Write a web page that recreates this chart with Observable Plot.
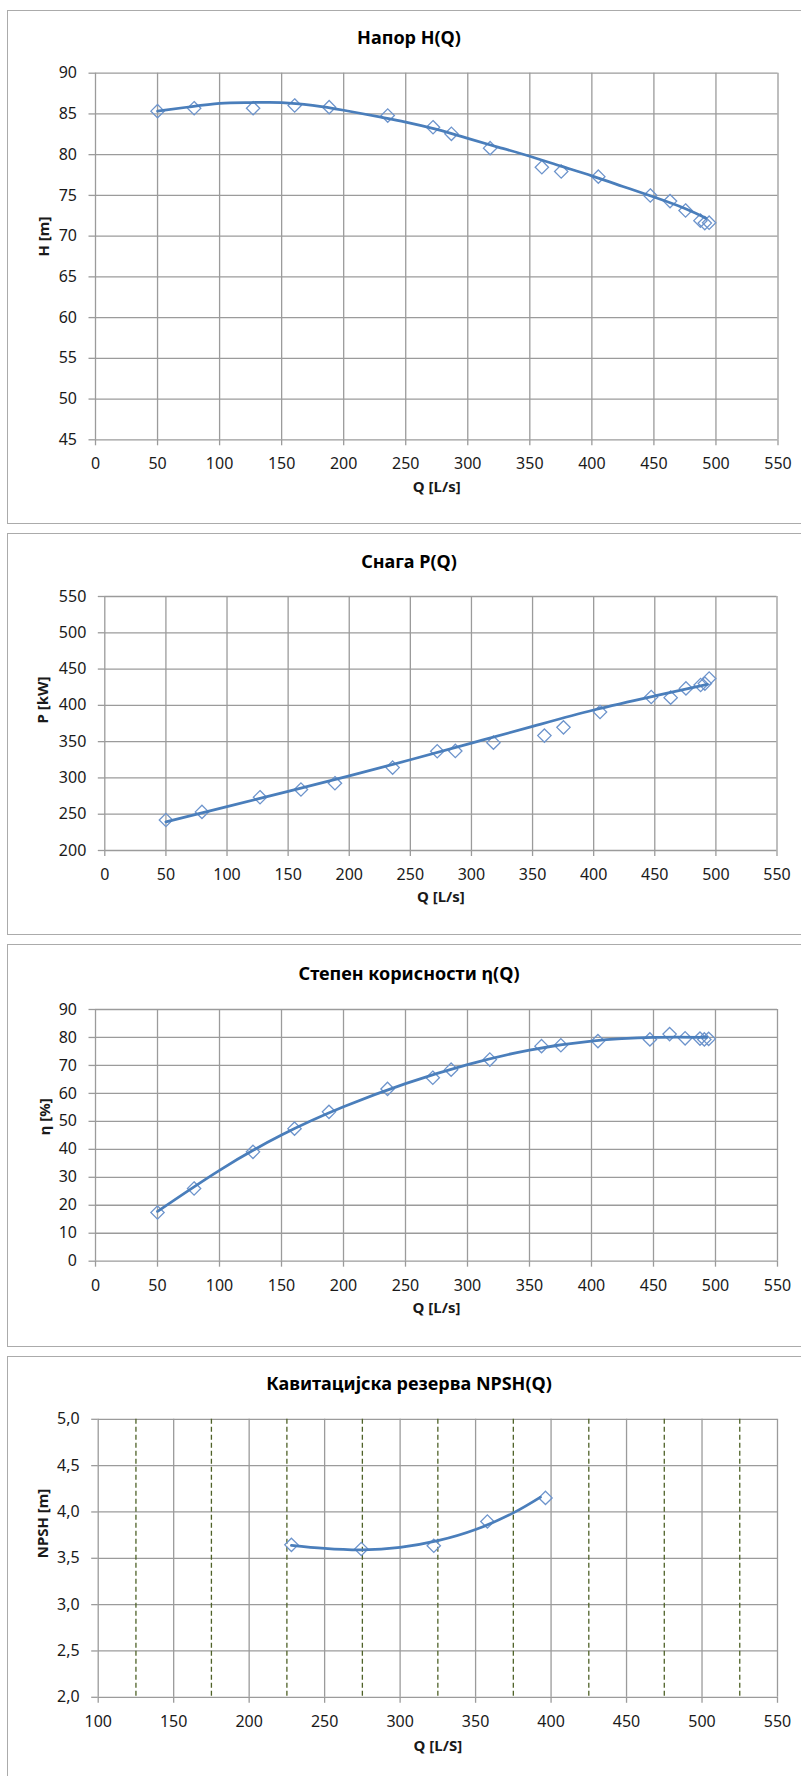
<!DOCTYPE html>
<html><head><meta charset="utf-8">
<script src="https://cdn.jsdelivr.net/npm/d3@7"></script>
<script src="https://cdn.jsdelivr.net/npm/@observablehq/plot@0.6"></script>
<style>
html,body{margin:0;padding:0;background:#fff;overflow:hidden;}
#root{position:relative;width:801px;height:1776px;overflow:hidden;font-family:"Noto Sans",sans-serif;}
.frame{position:absolute;left:7.3px;width:830px;border:1.4px solid #ababab;box-sizing:border-box;pointer-events:none;}
.title{position:absolute;left:8px;width:802px;text-align:center;font-weight:bold;font-size:18px;height:26px;line-height:26px;color:#000;font-family:"Noto Sans",sans-serif;}
</style></head><body><div id="root"></div>
<script>
// ---- data ----
// measured flow rates (shared by H, P, eta)
const Q = [50, 79.5, 127, 160.5, 188.3, 235.5, 272, 286.8, 318, 359.7, 375.3, 405.2, 447.1, 463, 475.5, 487.5, 491, 494.5];
// head H [m]
const H = [85.34, 85.7, 85.7, 86.04, 85.83, 84.8, 83.37, 82.56, 80.8, 78.46, 77.93, 77.3, 74.99, 74.3, 73.15, 71.9, 71.6, 71.65];
// power P [kW]
const P = [242, 253.2, 273.4, 284, 292.7, 314.2, 336.7, 337.2, 348.6, 358.3, 369.7, 390.8, 411.5, 410.6, 423.4, 428, 430, 437];
// efficiency eta [%]
const ETA = [17.4, 26.0, 39.1, 47.4, 53.4, 61.6, 65.6, 68.5, 72.1, 76.9, 77.2, 78.7, 79.3, 81.2, 79.7, 79.6, 79.3, 79.5];
// NPSH measurements
const Q_NPSH = [228, 274.3, 322.3, 357.8, 396.3];
const NPSH = [3.645, 3.60, 3.635, 3.897, 4.152];

// trend lines
const H_TREND_Q = [50, 75, 100, 125, 150, 175, 200, 230, 250, 275, 300, 325, 350, 375, 400, 425, 450, 475, 492];
const H_TREND = [85.35, 85.85, 86.3, 86.4, 86.4, 86.05, 85.45, 84.6, 84.0, 83.1, 82.0, 80.9, 79.8, 78.6, 77.4, 76.1, 74.8, 73.4, 72.2];
const P_TREND_Q = [50, 100, 150, 200, 250, 300, 350, 400, 450, 493];
const P_TREND = [239.4, 260.5, 281.5, 302.8, 325, 348, 371, 393.6, 413, 429];
const ETA_TREND_Q = [50, 100, 150, 200, 250, 300, 350, 400, 450, 493];
const ETA_TREND = [17.8, 32.5, 45.1, 55.2, 63.5, 70.3, 75.5, 78.7, 80.0, 80.0];
const NPSH_TREND_Q = [228, 250, 275, 300, 325, 350, 375, 393];
const NPSH_TREND = [3.64, 3.606, 3.59, 3.617, 3.69, 3.81, 3.99, 4.16];

// axis ticks
const X_TICKS = [0, 50, 100, 150, 200, 250, 300, 350, 400, 450, 500, 550];
const X_TICKS_NPSH = [100, 150, 200, 250, 300, 350, 400, 450, 500, 550];
const X_MINOR_NPSH = [125, 175, 225, 275, 325, 375, 425, 475, 525];
const H_TICKS = [45, 50, 55, 60, 65, 70, 75, 80, 85, 90];
const P_TICKS = [200, 250, 300, 350, 400, 450, 500, 550];
const ETA_TICKS = [0, 10, 20, 30, 40, 50, 60, 70, 80, 90];
const NPSH_TICKS = [2.0, 2.5, 3.0, 3.5, 4.0, 4.5, 5.0];

const TITLES = ["Напор H(Q)", "Снага P(Q)", "Степен корисности η(Q)", "Кавитацијска резерва NPSH(Q)"];
const Y_LABELS = ["H [m]", "P [kW]", "η [%]", "NPSH [m]"];
const X_LABELS = ["Q [L/s]", "Q [L/s]", "Q [L/s]", "Q [L/S]"];

// ---- styling ----
const GRID = "#9b9b9b";
const TXT = "#1a1a1a";
const LINE = "#4a7ebb";
const MARK = "#6d94cc";
const FONT = "Noto Sans";

const root = document.getElementById("root");
const zipPts = (qs, vs) => qs.map((q, i) => ({q, v: vs[i]}));

function panel(c) {
  const height = c.bottom - c.top;
  const marks = [
    Plot.gridY(c.yTicks, {stroke: GRID, strokeOpacity: 1, strokeWidth: 1.3}),
    Plot.gridX(c.xTicks, {stroke: GRID, strokeOpacity: 1, strokeWidth: 1.3})
  ];
  if (c.minor) marks.push(Plot.ruleX(c.minor, {stroke: "#4f6228", strokeDasharray: "5,3", strokeWidth: 1.3}));
  marks.push(
    Plot.axisY(c.yTicks, {tickSize: 6.5, tickPadding: 12, stroke: GRID, strokeWidth: 1.3, fill: TXT, fontSize: 16, label: null, tickFormat: c.fmt}),
    Plot.axisX(c.xTicks, {tickSize: 6, tickPadding: 12, stroke: GRID, strokeWidth: 1.3, fill: TXT, fontSize: 16, label: null, tickFormat: d => String(d)}),
    Plot.dot(c.pts, {x: "q", y: "v", symbol: "diamond2", r: 6, stroke: MARK, strokeWidth: 1.3, fill: "none"}),
    Plot.line(c.trend, {x: "q", y: "v", stroke: LINE, strokeWidth: 2.75, curve: "natural"}),
    Plot.text([c.xLabel], {text: d => d, frameAnchor: "bottom", dy: c.xLabelY - c.plotBottom, fontWeight: "bold", fontSize: 15, fill: TXT}),
    Plot.text([c.yLabel], {text: d => d, frameAnchor: "left", dx: c.yLabelX - c.plotLeft, rotate: -90, fontWeight: "bold", fontSize: 15, fill: TXT})
  );
  const svg = Plot.plot({
    width: 801,
    height,
    marginTop: c.plotTop - c.top,
    marginBottom: c.bottom - c.plotBottom,
    marginLeft: c.plotLeft,
    marginRight: 801 - c.plotRight,
    x: {domain: c.xDomain},
    y: {domain: c.yDomain},
    style: {fontFamily: FONT, fontSize: "16px", background: "transparent", overflow: "visible"},
    marks
  });
  svg.style.position = "absolute";
  svg.style.left = "0px";
  svg.style.top = c.top + "px";
  svg.style.maxWidth = "none";
  root.appendChild(svg);
  const fr = document.createElement("div");
  fr.className = "frame";
  fr.style.top = c.top + "px";
  fr.style.height = (c.frameBottom ?? c.bottom) - c.top + "px";
  root.appendChild(fr);
  const t = document.createElement("div");
  t.className = "title";
  t.textContent = c.title;
  t.style.top = (c.titleY - 13) + "px";
  root.appendChild(t);
}

const fmtInt = d => String(d);
const fmtComma = d => d.toFixed(1).replace(".", ",");

panel({top: 10, bottom: 524.3, plotTop: 72.7, plotBottom: 439.3, plotLeft: 95, plotRight: 777.5,
  xDomain: [0, 550], yDomain: [45, 90], xTicks: X_TICKS, yTicks: H_TICKS, fmt: fmtInt,
  pts: zipPts(Q, H), trend: zipPts(H_TREND_Q, H_TREND),
  title: TITLES[0], titleY: 37, xLabel: X_LABELS[0], xLabelY: 491.5, yLabel: Y_LABELS[0], yLabelX: 44});

panel({top: 533.3, bottom: 935.3, plotTop: 596.3, plotBottom: 850.3, plotLeft: 104.3, plotRight: 776.5,
  xDomain: [0, 550], yDomain: [200, 550], xTicks: X_TICKS, yTicks: P_TICKS, fmt: fmtInt,
  pts: zipPts(Q, P), trend: zipPts(P_TREND_Q, P_TREND),
  title: TITLES[1], titleY: 561, xLabel: X_LABELS[1], xLabelY: 902, yLabel: Y_LABELS[1], yLabelX: 43});

panel({top: 944.3, bottom: 1346.7, plotTop: 1009.3, plotBottom: 1261, plotLeft: 95, plotRight: 777,
  xDomain: [0, 550], yDomain: [0, 90], xTicks: X_TICKS, yTicks: ETA_TICKS, fmt: fmtInt,
  pts: zipPts(Q, ETA), trend: zipPts(ETA_TREND_Q, ETA_TREND),
  title: TITLES[2], titleY: 973, xLabel: X_LABELS[2], xLabelY: 1313, yLabel: Y_LABELS[2], yLabelX: 45});

panel({top: 1355.7, bottom: 1776, frameBottom: 1800, plotTop: 1418.5, plotBottom: 1696.5, plotLeft: 97.7, plotRight: 777,
  xDomain: [100, 550], yDomain: [2, 5], xTicks: X_TICKS_NPSH, yTicks: NPSH_TICKS, fmt: fmtComma, minor: X_MINOR_NPSH,
  pts: zipPts(Q_NPSH, NPSH), trend: zipPts(NPSH_TREND_Q, NPSH_TREND),
  title: TITLES[3], titleY: 1383, xLabel: X_LABELS[3], xLabelY: 1750, yLabel: Y_LABELS[3], yLabelX: 43});
</script></body></html>
